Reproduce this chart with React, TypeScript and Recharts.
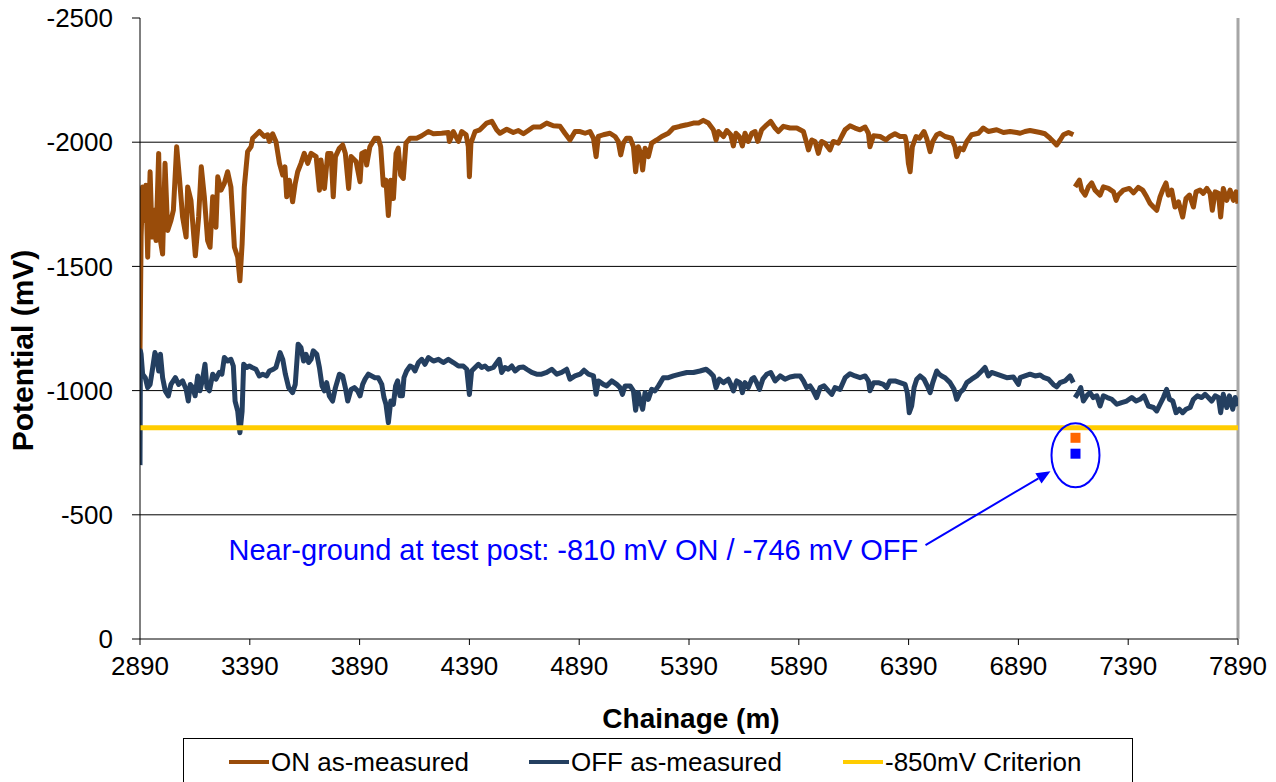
import React from 'react';
import {
  ComposedChart,
  Line,
  Scatter,
  XAxis,
  YAxis,
  CartesianGrid,
  Legend,
  ReferenceDot,
  ReferenceLine
} from 'recharts';

// chainage ticks / potential ticks
const chainageTicks = [2890, 3390, 3890, 4390, 4890, 5390, 5890, 6390, 6890, 7390, 7890];
const potentialTicks = [-2500, -2000, -1500, -1000, -500, 0];
const gridPotentials = [-2000, -1500, -1000, -500];

// ON as-measured (null = gap in the survey)
const onChainage = [
  2890, 2895, 2902, 2910, 2917, 2925, 2936, 2945, 2955, 2963, 2975, 2983, 2993, 3004, 3016, 3031, 3042, 3057, 3069, 3084,
  3100, 3107, 3122, 3142, 3157, 3169, 3183, 3198, 3209, 3221, 3236, 3244, 3259, 3274, 3289, 3304, 3320, 3335, 3345, 3355,
  3365, 3380, 3396, 3403, 3434, 3456, 3471, 3479, 3494, 3509, 3525, 3540, 3550, 3558, 3570, 3585, 3597, 3608, 3623, 3638,
  3654, 3669, 3692, 3707, 3714, 3730, 3745, 3760, 3770, 3780, 3798, 3813, 3825, 3840, 3851, 3874,
  3892, 3900, 3915, 3922, 3937, 3960, 3975, 3986, 3998, 4010, 4021, 4032, 4044, 4056, 4066, 4077, 4089, 4101, 4120, 4150,
  4173, 4203, 4226, 4264, 4294, 4299, 4317, 4340, 4355, 4375, 4385, 4390, 4397, 4416, 4438, 4469, 4492, 4514, 4529, 4560,
  4590, 4613, 4636, 4658, 4681, 4712, 4742, 4772, 4803, 4825, 4848, 4871,
  4894, 4917, 4939, 4955, 4967, 4977, 5000, 5030, 5053, 5068, 5079, 5091, 5106, 5122, 5137, 5147, 5159, 5170, 5179, 5190,
  5205, 5220, 5243, 5266, 5296, 5319, 5349, 5380, 5410, 5433, 5455, 5478, 5501, 5513, 5524, 5547, 5562, 5580, 5592, 5604,
  5619, 5633, 5645, 5660, 5676, 5691, 5703, 5721, 5744, 5762, 5782, 5797, 5820, 5850, 5881,
  5896, 5911, 5926, 5934, 5949, 5964, 5979, 5994, 6009, 6032, 6047, 6070, 6085, 6101, 6123, 6146, 6169, 6192, 6207, 6214,
  6230, 6260, 6287, 6305, 6328, 6351, 6374, 6381, 6389, 6397, 6407, 6424, 6439, 6460, 6472, 6488, 6500, 6518, 6533, 6556,
  6586, 6601, 6609, 6624, 6639, 6655, 6677, 6708, 6730, 6753, 6791, 6822, 6852, 6882,
  6898, 6920, 6943, 6966, 6989, 7011, 7034, 7049, 7064, 7080, 7095, 7118, 7140, 7142,
  7148, 7168, 7178, 7194, 7209, 7224, 7239, 7262, 7277, 7300, 7323, 7335, 7345, 7368, 7395, 7414, 7436, 7456, 7474, 7490,
  7505, 7520, 7535, 7547, 7562, 7573, 7588, 7603, 7619, 7638, 7653, 7669, 7687, 7699, 7717, 7732, 7748, 7763, 7773, 7786,
  7801, 7811, 7823, 7839, 7854, 7869, 7881, 7890
];
const onPotential = [
  -1160, -1618, -1820, -1685, -1827, -1537, -1881, -1618, -1726, -1604, -1955, -1604, -1550, -1915, -1645, -1685, -1726, -1982, -1861, -1699,
  -1618, -1820, -1766, -1543, -1699, -1901, -1780, -1604, -1577, -1780, -1658, -1861, -1807, -1834, -1881, -1820, -1577, -1537, -1442, -1591,
  -1820, -1962, -1982, -2016, -2043, -2023, -2030, -2003, -2034, -2003, -1915, -1868, -1901, -1780, -1847, -1760, -1834, -1881, -1915, -1955,
  -1915, -1955, -1942, -1807, -1928, -1814, -1955, -1955, -1780, -1942, -1976, -1989, -1955, -1814, -1942, -1922,
  -1841, -1955, -1962, -1908, -1982, -2016, -2016, -1982, -1827, -1847, -1705, -1847, -1773, -1955, -1976, -1868, -1854, -1996, -2016, -2016,
  -2026, -2043, -2034, -2036, -2039, -2003, -2043, -2003, -2043, -2030, -1982, -1861, -1996, -2043, -2050, -2077, -2084, -2050, -2036, -2052,
  -2039, -2047, -2034, -2047, -2061, -2061, -2077, -2066, -2064, -2036, -2009, -2043,
  -2043, -2036, -2043, -2016, -1942, -2023, -2030, -2036, -2023, -2003, -1949, -1996, -2016, -2016, -1982, -1881, -1982, -1955, -1888, -1976,
  -1942, -1996, -2009, -2023, -2036, -2057, -2064, -2070, -2077, -2077, -2088, -2077, -2050, -2009, -2043, -2023, -2047, -2030, -1985, -2036,
  -2023, -1985, -2036, -2003, -2036, -2043, -2003, -2050, -2070, -2084, -2057, -2043, -2064, -2057, -2057,
  -2050, -2043, -1996, -1969, -2009, -2003, -1955, -2003, -1996, -1969, -2003, -1996, -2023, -2050, -2066, -2057, -2050, -2061, -2036, -1982,
  -2026, -2023, -2009, -2023, -2034, -2023, -2023, -1996, -1915, -1881, -1982, -2023, -2016, -2043, -2016, -1962, -2003, -2030, -2036, -2023,
  -2016, -1982, -1942, -1976, -1969, -2003, -2030, -2036, -2057, -2043, -2050, -2039, -2043, -2039,
  -2036, -2043, -2047, -2043, -2039, -2034, -2016, -2003, -1989, -2009, -2030, -2039, -2030, null,
  -1820, -1847, -1807, -1787, -1820, -1836, -1807, -1787, -1820, -1814, -1800, -1766, -1787, -1807, -1814, -1796, -1818, -1807, -1780, -1753,
  -1739, -1726, -1780, -1807, -1836, -1787, -1807, -1739, -1760, -1699, -1773, -1787, -1739, -1800, -1807, -1794, -1814, -1794, -1726, -1800,
  -1794, -1699, -1814, -1766, -1807, -1766, -1800, -1753
];

// OFF as-measured
const offChainage = [
  2890, 2892, 2895, 2902, 2914, 2925, 2936, 2948, 2958, 2967, 2975, 2983, 2993, 3005, 3019, 3031, 3051, 3066, 3084, 3100,
  3110, 3119, 3130, 3141, 3153, 3163, 3175, 3186, 3195, 3206, 3221, 3236, 3251, 3263, 3274, 3289, 3304, 3315, 3323, 3335,
  3345, 3355, 3362, 3376, 3388, 3400, 3418, 3433, 3449, 3467, 3479, 3497, 3509, 3528, 3540, 3552, 3567, 3585, 3597, 3610,
  3623, 3635, 3646, 3658, 3669, 3679, 3695, 3707, 3719, 3730, 3740, 3752, 3767, 3780, 3798, 3813, 3825, 3836, 3851, 3866, 3881,
  3892, 3904, 3915, 3930, 3945, 3960, 3975, 3991, 4001, 4010, 4021, 4032, 4044, 4054, 4063, 4074, 4085, 4092, 4104, 4120,
  4132, 4142, 4158, 4173, 4188, 4203, 4226, 4249, 4271, 4294, 4317, 4340, 4362, 4378, 4390, 4400, 4416, 4431, 4446, 4461,
  4476, 4499, 4526, 4537, 4552, 4567, 4583, 4598, 4617, 4636, 4651, 4674, 4696, 4719, 4742, 4765, 4788, 4810, 4833, 4848, 4871,
  4894, 4912, 4932, 4955, 4967, 4977, 5000, 5015, 5038, 5061, 5076, 5087, 5099, 5122, 5137, 5147, 5159, 5170, 5179, 5190,
  5205, 5220, 5235, 5251, 5273, 5296, 5319, 5349, 5380, 5410, 5440, 5468, 5486, 5501, 5513, 5528, 5547, 5569, 5580, 5592,
  5607, 5622, 5633, 5645, 5660, 5676, 5686, 5698, 5711, 5726, 5744, 5762, 5782, 5805, 5827, 5850, 5873,
  5896, 5911, 5926, 5941, 5956, 5971, 5987, 6005, 6025, 6040, 6055, 6078, 6101, 6123, 6146, 6169, 6192, 6207, 6214, 6230,
  6252, 6275, 6290, 6305, 6328, 6351, 6374, 6384, 6393, 6404, 6415, 6427, 6442, 6460, 6475, 6488, 6500, 6518, 6530, 6541,
  6556, 6579, 6597, 6609, 6624, 6639, 6655, 6677, 6700, 6723, 6738, 6753, 6768, 6791, 6814, 6837, 6867, 6890,
  6898, 6920, 6943, 6966, 6989, 7007, 7027, 7049, 7064, 7080, 7102, 7125, 7140, 7142,
  7148, 7163, 7174, 7186, 7201, 7216, 7231, 7247, 7262, 7277, 7295, 7315, 7338, 7360, 7383, 7406, 7426, 7444, 7462, 7482,
  7505, 7520, 7535, 7550, 7565, 7578, 7593, 7608, 7623, 7638, 7653, 7672, 7687, 7705, 7725, 7740, 7755, 7770, 7786, 7801,
  7811, 7823, 7839, 7851, 7866, 7877, 7890
];
const offPotential = [
  -700, -1160, -1146, -1066, -1052, -1012, -1025, -1093, -1153, -1133, -1079, -1146, -1052, -999, -979, -1025, -1052, -1025, -1039, -1005,
  -958, -1025, -1012, -979, -1059, -999, -1046, -1106, -1012, -999, -1066, -1046, -1073, -1066, -1133, -1119, -1126, -1099, -958, -917,
  -830, -917, -1106, -1093, -1099, -1093, -1086, -1059, -1066, -1059, -1079, -1086, -1093, -1153, -1126, -1066, -1012, -992, -1025, -1187,
  -1173, -1119, -1146, -1113, -1126, -1160, -1146, -1093, -1019, -999, -1032, -979, -958, -1012, -1066, -1059, -1012, -958, -1005, -1012, -999,
  -979, -1025, -1046, -1066, -1059, -1052, -1052, -1025, -972, -945, -871, -958, -945, -1019, -1039, -979, -979, -1052, -1079, -1099,
  -1093, -1079, -1113, -1126, -1106, -1133, -1119, -1126, -1113, -1126, -1113, -1099, -1099, -1086, -984, -1079, -1093, -1106, -1093, -1099,
  -1086, -1093, -1126, -1073, -1093, -1086, -1099, -1079, -1093, -1095, -1086, -1073, -1066, -1066, -1073, -1086, -1066, -1073, -1086, -1046, -1059,
  -1066, -1082, -1066, -1059, -985, -1039, -1025, -1019, -1039, -1025, -1012, -985, -1019, -1019, -999, -921, -992, -952, -925, -992,
  -965, -1005, -999, -1019, -1052, -1052, -1059, -1066, -1073, -1073, -1079, -1086, -1073, -1059, -1012, -1046, -1032, -1046, -1025, -999,
  -1039, -1032, -992, -1032, -1012, -1046, -1052, -1032, -1005, -1046, -1066, -1073, -1039, -1059, -1046, -1055, -1059,
  -1059, -1039, -1012, -1019, -999, -972, -1012, -1019, -999, -985, -1012, -1005, -1052, -1068, -1059, -1052, -1059, -1039, -999, -1032,
  -1032, -1025, -1012, -1039, -1039, -1032, -1025, -992, -911, -938, -1012, -1046, -1059, -1046, -1019, -992, -1032, -1079, -1066, -1059,
  -1052, -1032, -1005, -965, -992, -1005, -1032, -1046, -1059, -1079, -1093, -1059, -1073, -1066, -1059, -1052, -1055, -1025,
  -1052, -1059, -1066, -1059, -1063, -1052, -1046, -1025, -1015, -1032, -1039, -1059, -1032, null,
  -972, -992, -1012, -958, -979, -992, -972, -979, -938, -979, -972, -965, -945, -952, -958, -972, -958, -965, -979, -938,
  -932, -918, -945, -972, -1005, -965, -958, -911, -925, -911, -925, -932, -965, -979, -972, -985, -972, -958, -979, -972,
  -911, -985, -932, -979, -925, -972, -938
];

// -850 mV criterion
const criterionChainage = [2890, 7890];
const criterionPotential = [-850, -850];

// near-ground reading at test post
const testPostChainage = [7150];
const testPostOn = [-810];
const testPostOff = [-746];

const ON_COLOR = '#994C0A';
const OFF_COLOR = '#243F60';
const CRIT_COLOR = '#FFCC00';
const NOTE_COLOR = '#0000FF';
const FONT = '"Liberation Sans", Arial, sans-serif';

const toRows = (xs: number[], ys: (number | null)[]) =>
  xs.map((x, i) => ({ chainage: x, potential: ys[i] }));

const onData = toRows(onChainage, onPotential);
const offData = toRows(offChainage, offPotential);
const criterionData = toRows(criterionChainage, criterionPotential);
const testOnData = toRows(testPostChainage, testPostOn);
const testOffData = toRows(testPostChainage, testPostOff);

const legendItems = [
  { label: 'ON as-measured', color: ON_COLOR, left: 45 },
  { label: 'OFF as-measured', color: OFF_COLOR, left: 345 },
  { label: '-850mV Criterion', color: CRIT_COLOR, left: 659 }
];

const ChartLegend = () => (
  <div
    style={{
      position: 'relative',
      marginLeft: 175,
      width: 950,
      height: 60,
      boxSizing: 'border-box',
      border: '1px solid #000',
      background: '#fff',
      fontFamily: FONT
    }}
  >
    {legendItems.map(item => (
      <div
        key={item.label}
        style={{ position: 'absolute', left: item.left, top: 7, height: 32, display: 'flex', alignItems: 'center' }}
      >
        <span style={{ display: 'inline-block', width: 40, height: 4, background: item.color, marginRight: 2 }} />
        <span style={{ fontSize: 26, color: '#000', whiteSpace: 'nowrap' }}>{item.label}</span>
      </div>
    ))}
  </div>
);

const squareShape = (color: string) => (props: any) => (
  <rect x={props.cx - 5} y={props.cy - 5} width={10} height={10} fill={color} />
);

// ellipse, arrow and note around the test post reading
const TestPostNote = (props: any) => {
  const { cx, cy } = props;
  if (cx == null || cy == null) return null;
  const tip = { x: cx - 25, y: cy + 16 };
  const tail = { x: cx - 150, y: cy + 90 };
  const dx = tip.x - tail.x;
  const dy = tip.y - tail.y;
  const len = Math.sqrt(dx * dx + dy * dy);
  const ux = dx / len;
  const uy = dy / len;
  const bx = tip.x - ux * 14;
  const by = tip.y - uy * 14;
  const head = `${tip.x},${tip.y} ${bx - uy * 6},${by + ux * 6} ${bx + uy * 6},${by - ux * 6}`;
  return (
    <g>
      <ellipse cx={cx} cy={cy} rx={24} ry={32} fill="none" stroke={NOTE_COLOR} strokeWidth={2} />
      <line x1={tail.x} y1={tail.y} x2={bx} y2={by} stroke={NOTE_COLOR} strokeWidth={2} />
      <polygon points={head} fill={NOTE_COLOR} />
      <text
        x={cx - 847}
        y={cy + 95}
        fill={NOTE_COLOR}
        fontSize={29}
        fontFamily={FONT}
        dominantBaseline="central"
      >
        Near-ground at test post: -810 mV ON / -746 mV OFF
      </text>
    </g>
  );
};

const YTitle = (props: any) => {
  const vb = props.viewBox || { x: 0, y: 10, width: 132, height: 621 };
  const x = 14;
  const y = vb.y + vb.height / 2 + 22;
  return (
    <text
      x={x}
      y={y}
      transform={`rotate(-90, ${x}, ${y})`}
      textAnchor="middle"
      dominantBaseline="central"
      fontSize={30}
      fontWeight="bold"
      fontFamily={FONT}
      fill="#000"
    >
      Potential (mV)
    </text>
  );
};

const XTitle = (props: any) => {
  const vb = props.viewBox || { x: 132, y: 631, width: 1098, height: 99 };
  return (
    <text
      x={vb.x + vb.width / 2 + 2}
      y={vb.y + 79}
      textAnchor="middle"
      dominantBaseline="central"
      fontSize={28}
      fontWeight="bold"
      fontFamily={FONT}
      fill="#000"
    >
      Chainage (m)
    </text>
  );
};

const tickStyle = { fontSize: 26, fill: '#000', fontFamily: FONT };

export default function App() {
  return (
    <div
      style={{
        position: 'fixed',
        left: 0,
        top: 0,
        width: 1276,
        height: 782,
        padding: 8,
        boxSizing: 'border-box',
        overflow: 'hidden',
        background: '#fff'
      }}
    >
      <style>{'html, body { overflow: hidden; } .recharts-surface { overflow: visible; }'}</style>
      <ComposedChart width={1260} height={790} margin={{ top: 10, right: 30, left: 0, bottom: 0 }}>
        <CartesianGrid horizontal vertical={false} horizontalValues={gridPotentials} stroke="#000" strokeWidth={1} />
        <XAxis
          type="number"
          dataKey="chainage"
          domain={[2890, 7890]}
          ticks={chainageTicks}
          interval={0}
          allowDataOverflow
          height={99}
          tickSize={6}
          tickMargin={12}
          stroke="#000"
          tick={tickStyle}
          label={<XTitle />}
        />
        <YAxis
          type="number"
          dataKey="potential"
          domain={[-2500, 0]}
          ticks={potentialTicks}
          interval={0}
          reversed
          allowDataOverflow
          width={132}
          tickSize={8}
          tickMargin={19}
          stroke="#000"
          tick={tickStyle}
          label={<YTitle />}
        />
        <ReferenceLine x={7890} stroke="#A6A6A6" strokeWidth={3} />
        <Legend verticalAlign="bottom" align="left" wrapperStyle={{ left: 0, bottom: 0, width: 1260 }} content={<ChartLegend />} />
        <Line
          data={onData}
          dataKey="potential"
          name="ON as-measured"
          stroke={ON_COLOR}
          strokeWidth={5}
          strokeLinejoin="round"
          dot={false}
          isAnimationActive={false}
        />
        <Line
          data={offData}
          dataKey="potential"
          name="OFF as-measured"
          stroke={OFF_COLOR}
          strokeWidth={5}
          strokeLinejoin="round"
          dot={false}
          isAnimationActive={false}
        />
        <Line
          data={criterionData}
          dataKey="potential"
          name="-850mV Criterion"
          stroke={CRIT_COLOR}
          strokeWidth={5}
          dot={false}
          isAnimationActive={false}
        />
        <Scatter data={testOnData} dataKey="potential" fill="#FF6600" shape={squareShape('#FF6600')} isAnimationActive={false} />
        <Scatter data={testOffData} dataKey="potential" fill={NOTE_COLOR} shape={squareShape(NOTE_COLOR)} isAnimationActive={false} />
        <ReferenceDot x={7150} y={-740} r={0} ifOverflow="visible" shape={<TestPostNote />} />
      </ComposedChart>
    </div>
  );
}
